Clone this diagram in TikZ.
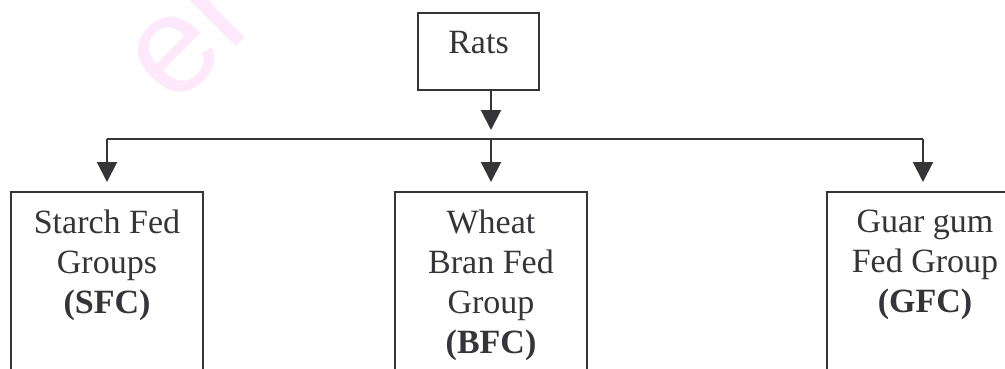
\documentclass[tikz,border=0pt]{standalone}
\usepackage{fontspec}
\setmainfont{Liberation Serif}
\newfontfamily\wmfont{Liberation Sans}
\usetikzlibrary{arrows.meta}
\definecolor{ink}{RGB}{52,52,57}
\definecolor{wm}{RGB}{253,232,252}
\tikzset{
  boxstyle/.style={draw=ink, line width=2pt, rectangle, inner sep=0pt,
    minimum width=192pt, minimum height=240pt, anchor=north},
  txt/.style={text=ink, align=center, inner sep=0pt,
    font=\fontsize{34}{40}\selectfont},
  arr/.style={draw=ink, line width=2pt, -{Triangle[width=20pt,length=20pt]}},
  wire/.style={draw=ink, line width=2pt},
}
\begin{document}
\begin{tikzpicture}[x=1pt,y=1pt]
\useasboundingbox (0,0) rectangle (1005,-368);
\clip (0,0) rectangle (1005,-368);
% faint watermark
\node[text=wm, inner sep=0pt, anchor=base west, rotate=45,
      font=\wmfont\fontsize{140}{140}\selectfont] (mark) at (174,-109) {er};
% top box
\node[draw=ink, line width=2pt, minimum width=121pt, minimum height=77pt,
      inner sep=0pt, anchor=north] (rats) at (478.5,-12) {};
\node[txt, anchor=base] (ratslbl) at (478.5,-53) {Rats};
% bus coordinates
\coordinate (jl) at (107,-139);
\coordinate (jm) at (491,-139);
\coordinate (jr) at (923,-139);
% group boxes
\node[boxstyle] (sfc) at (107,-191) {};
\node[boxstyle] (bfc) at (491,-191) {};
\node[boxstyle] (gfc) at (923,-191) {};
\node[txt, anchor=north] (sfclbl) at (107,-210) {Starch Fed\\Groups\\\textbf{(SFC)}};
\node[txt, anchor=north] (bfclbl) at (491,-210) {Wheat\\Bran Fed\\Group\\\textbf{(BFC)}};
\node[txt, anchor=north] (gfclbl) at (925,-210) {Guar gum\\Fed Group\\\textbf{(GFC)}};
% connectors
\draw[arr, shorten >=9pt] (rats.south -| jm) -- (jm);
\draw[wire] (jl) -- (jr);
\draw[arr, shorten >=9pt] (jl) -- (sfc.north);
\draw[arr, shorten >=9pt] (jm) -- (bfc.north);
\draw[arr, shorten >=9pt] (jr) -- (gfc.north);
\end{tikzpicture}
\end{document}
